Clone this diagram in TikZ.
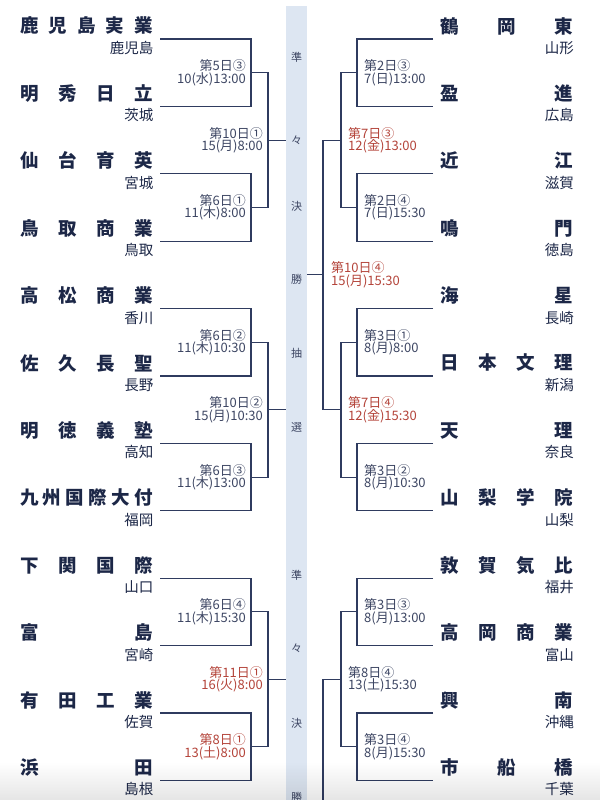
\documentclass[tikz,border=0pt]{standalone}
\usepackage{fontspec}
\setmainfont{Noto Sans CJK JP}
\usetikzlibrary{positioning,fadings}
\definecolor{navy}{HTML}{1c2747}
\definecolor{rulec}{HTML}{2f3b5f}
\definecolor{datec}{HTML}{3d4663}
\definecolor{redd}{HTML}{b4443a}
\definecolor{bandc}{HTML}{dde6f2}

\newcommand{\spread}[1]{\makebox[133pt][s]{#1}}

\tikzset{
  team/.style={inner sep=0pt,text=navy,font=\fontsize{18.5}{20}\selectfont\bfseries},
  pref/.style={inner sep=0pt,text=navy,anchor=east,font=\fontsize{14.5}{15}\selectfont},
  datel/.style={inner sep=0pt,text=datec,align=right,font=\fontsize{13}{12.5}\selectfont},
  dater/.style={inner sep=0pt,text=datec,align=left,font=\fontsize{13}{12.5}\selectfont},
  late/.style={text=redd},
  bracket/.style={draw=rulec,line width=1.1pt},
  band/.style={fill=bandc,inner sep=0pt,minimum width=21pt,minimum height=820pt,anchor=north},
  bandtxt/.style={inner sep=0pt,text=datec,font=\fontsize{11}{11}\selectfont},
}

\begin{document}
\begin{tikzpicture}[x=1pt,y=-1pt]
\useasboundingbox[fill=white] (0,0) rectangle (600,800);
% ---------- centre band ----------
\node[band] (band) at (296.5,6) {};
\foreach \c/\y [count=\i] in {準/57,々/140,決/206,勝/279,抽/353,選/427,準/575,々/648,決/723,勝/797}
  \node[bandtxt] (bt\i) at (296.5,\y) {\c};
% ---------- teams, left ----------
\foreach \n/\p [count=\i] in {{鹿\hfil 児\hfil 島\hfil 実\hfil 業}/鹿児島,{明\hfil 秀\hfil 日\hfil 立}/茨城,
    {仙\hfil 台\hfil 育\hfil 英}/宮城,{鳥\hfil 取\hfil 商\hfil 業}/鳥取,{高\hfil 松\hfil 商\hfil 業}/香川,
    {佐\hfil 久\hfil 長\hfil 聖}/長野,{明\hfil 徳\hfil 義\hfil 塾}/高知,{九\hfil 州\hfil 国\hfil 際\hfil 大\hfil 付}/福岡,
    {下\hfil 関\hfil 国\hfil 際}/山口,{富\hfil 島}/宮崎,{有\hfil 田\hfil 工\hfil 業}/佐賀,{浜\hfil 田}/島根} {
  \pgfmathsetmacro\y{39+67.4*(\i-1)}
  \coordinate (L\i) at (160,\y);
  \node[team] (L\i n) at (86.5,\y-13) {\spread{\n}};
  \node[pref] (L\i p) at (153.5,\y+9) {\p};
}
% ---------- teams, right ----------
\foreach \n/\p [count=\i] in {{鶴\hfil 岡\hfil 東}/山形,{盈\hfil 進}/広島,{近\hfil 江}/滋賀,{鳴\hfil 門}/徳島,
    {海\hfil 星}/長崎,{日\hfil 本\hfil 文\hfil 理}/新潟,{天\hfil 理}/奈良,{山\hfil 梨\hfil 学\hfil 院}/山梨,
    {敦\hfil 賀\hfil 気\hfil 比}/福井,{高\hfil 岡\hfil 商\hfil 業}/富山,{興\hfil 南}/沖縄,{市\hfil 船\hfil 橋}/千葉} {
  \pgfmathsetmacro\y{39+67.4*(\i-1)}
  \coordinate (R\i) at (433,\y);
  \node[team] (R\i n) at (506.5,\y-13) {\spread{\n}};
  \node[pref] (R\i p) at (574,\y+9) {\p};
}
% ---------- junctions ----------
\foreach \j in {1,...,6} {
  \pgfmathsetmacro\y{39+67.4*(2*\j-1.5)}
  \coordinate (g\j) at (251,\y);
  \coordinate (h\j) at (357,\y);
}
\foreach \j in {1,2,3} {
  \pgfmathsetmacro\y{39+67.4*(4*\j-2.5)}
  \coordinate (q\j) at (268,\y);
  \coordinate (k\j) at (341,\y);
}
\coordinate (s1) at (323,274.9);
\coordinate (s2) at (323,810);
% ---------- brackets ----------
\foreach \j [evaluate=\j as \a using int(2*\j-1),evaluate=\j as \b using int(2*\j)] in {1,...,6} {
  \draw[bracket] (L\a) -| (g\j) |- (L\b);
  \draw[bracket] (R\a) -| (h\j) |- (R\b);
}
\foreach \j [evaluate=\j as \a using int(2*\j-1),evaluate=\j as \b using int(2*\j)] in {1,2,3} {
  \draw[bracket] (g\a) -| (q\j) |- (g\b);
  \draw[bracket] (q\j) -- (q\j -| band.west);
}
\draw[bracket] (h1) -| (k1) |- (h2);
\draw[bracket] (h3) -| (k2) |- (h4);
\draw[bracket] (h5) -| (k3) |- (h6);
\draw[bracket] (k1) -| (s1) |- (k2);
\draw[bracket] (s1) -- (s1 -| band.east);
\draw[bracket] (k3) -| (s2);
% ---------- dates, left ----------
\node[datel,left=5pt of g1] (dg1) {第5日③\\10(水)13:00};
\node[datel,left=5pt of g2] (dg2) {第6日①\\11(木)8:00};
\node[datel,left=5pt of g3] (dg3) {第6日②\\11(木)10:30};
\node[datel,left=5pt of g4] (dg4) {第6日③\\11(木)13:00};
\node[datel,left=5pt of g5] (dg5) {第6日④\\11(木)15:30};
\node[datel,late,left=5pt of g6] (dg6) {第8日①\\13(土)8:00};
\node[datel,left=5pt of q1] (dq1) {第10日①\\15(月)8:00};
\node[datel,left=5pt of q2] (dq2) {第10日②\\15(月)10:30};
\node[datel,late,left=5pt of q3] (dq3) {第11日①\\16(火)8:00};
% ---------- dates, right ----------
\node[dater,right=7pt of h1] (dh1) {第2日③\\7(日)13:00};
\node[dater,right=7pt of h2] (dh2) {第2日④\\7(日)15:30};
\node[dater,right=7pt of h3] (dh3) {第3日①\\8(月)8:00};
\node[dater,right=7pt of h4] (dh4) {第3日②\\8(月)10:30};
\node[dater,right=7pt of h5] (dh5) {第3日③\\8(月)13:00};
\node[dater,right=7pt of h6] (dh6) {第3日④\\8(月)15:30};
\node[dater,late,right=7pt of k1] (dk1) {第7日③\\12(金)13:00};
\node[dater,late,right=7pt of k2] (dk2) {第7日④\\12(金)15:30};
\node[dater,right=7pt of k3] (dk3) {第8日④\\13(土)15:30};
\node[dater,late,right=8pt of s1] (ds1) {第10日④\\15(月)15:30};
% bottom shade
\fill[black,opacity=0.1,path fading=north] (0,762) rectangle (600,800);
\end{tikzpicture}
\end{document}
